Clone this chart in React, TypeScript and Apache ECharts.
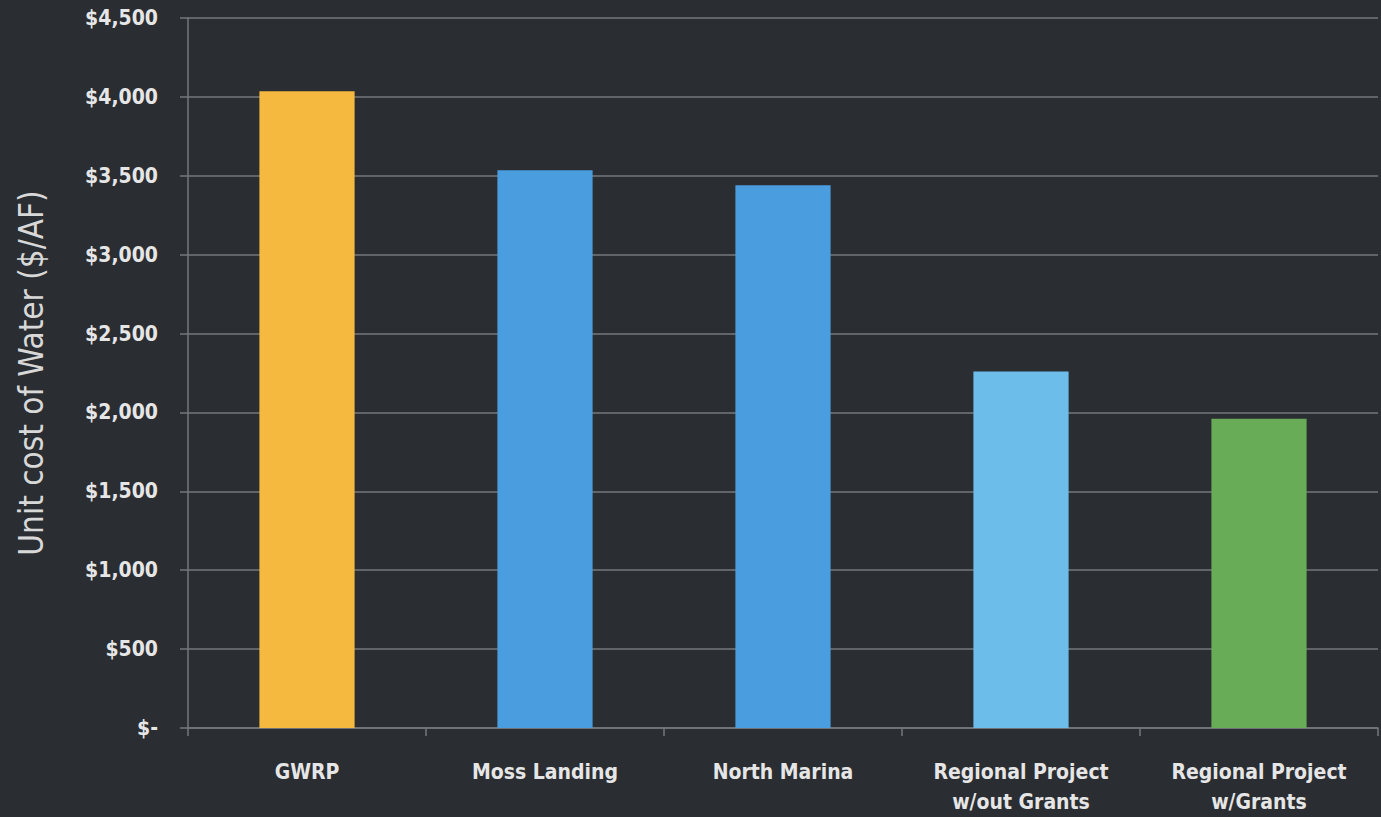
import React, { useEffect, useRef } from "react";
import * as echarts from "echarts";

const categories = ["GWRP", "Moss Landing", "North Marina", "Regional Project\nw/out Grants", "Regional Project\nw/Grants"];
const values = [4035, 3535, 3440, 2260, 1960];
const barColors = ["#F6B940", "#4A9EE0", "#4A9EE0", "#6DBDEA", "#69AC58"];
const yTicks = [0, 500, 1000, 1500, 2000, 2500, 3000, 3500, 4000, 4500];

const FONT = "'Liberation Sans Narrow', 'DejaVu Sans Condensed', sans-serif";

export default function App() {
  const ref = useRef<HTMLDivElement>(null);
  useEffect(() => {
    const chart = echarts.init(ref.current!, null, { renderer: "svg" });
    chart.setOption({
      animation: false,
      backgroundColor: "#2A2D31",
      grid: { left: 188, right: 3, top: 18, bottom: 87, containLabel: false },
      xAxis: {
        type: "category",
        data: categories,
        axisLine: { show: true, lineStyle: { color: "#74777C", width: 1.5 } },
        axisTick: { show: true, length: 8, lineStyle: { color: "#74777C", width: 1.5 } },
        axisLabel: {
          color: "#E6E6E6",
          fontFamily: FONT,
          fontWeight: "bold",
          fontSize: 21,
          lineHeight: 30,
          margin: 29,
          interval: 0,
        },
      },
      yAxis: {
        type: "value",
        min: yTicks[0],
        max: yTicks[yTicks.length - 1],
        interval: 500,
        name: "Unit cost of Water ($/AF)",
        nameLocation: "middle",
        nameGap: 140,
        nameTextStyle: { color: "#D8D8D8", fontFamily: FONT, fontSize: 33, padding: [0, 0, 0, 0] },
        axisLine: { show: true, lineStyle: { color: "#74777C", width: 1.5 } },
        axisTick: { show: true, length: 8, lineStyle: { color: "#74777C", width: 1.5 } },
        splitLine: { show: true, lineStyle: { color: "#74777C", width: 1.5 } },
        axisLabel: {
          color: "#E6E6E6",
          fontFamily: FONT,
          fontWeight: "bold",
          fontSize: 21,
          margin: 30,
          formatter: (v: number) => (v === 0 ? "$-" : "$" + v.toLocaleString("en-US")),
        },
      },
      series: [
        {
          type: "bar",
          barWidth: "40%",
          data: values.map((v, i) => ({ value: v, itemStyle: { color: barColors[i] } })),
        },
      ],
    });
    return () => chart.dispose();
  }, []);
  return <div ref={ref} style={{ width: 1381, height: 817, position: "fixed", left: 0, top: 0 }} />;
}
